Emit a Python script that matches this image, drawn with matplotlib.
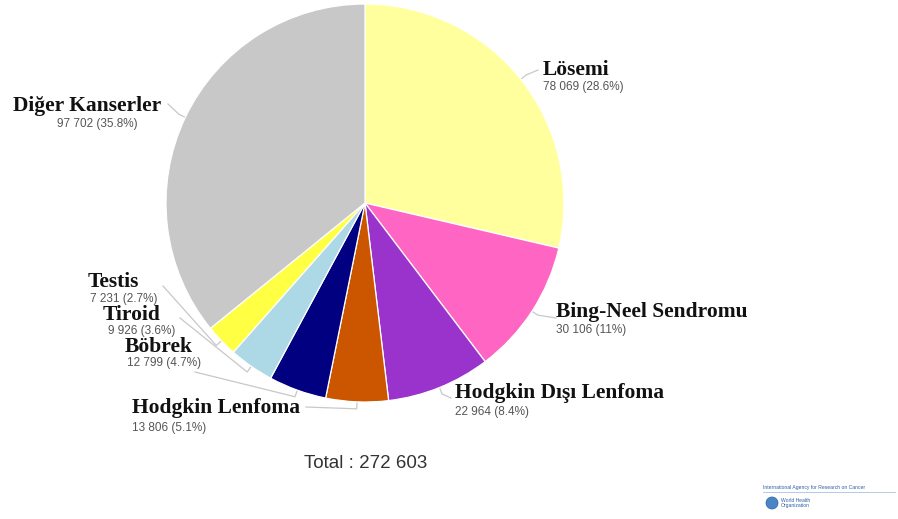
import numpy as np
import matplotlib.pyplot as plt
from matplotlib.patches import Circle

# data
categories = ["Lösemi", "Bing-Neel Sendromu", "Hodgkin Dışı Lenfoma", "Hodgkin Lenfoma",
              "Böbrek", "Tiroid", "Testis", "Diğer Kanserler"]
counts = [78069, 30106, 22964, 13806, 12799, 9926, 7231, 97702]
percents = ["28.6%", "11%", "8.4%", "5.1%", "4.7%", "3.6%", "2.7%", "35.8%"]
colors = ["#ffff9e", "#ff66c4", "#9933cc", "#cc5500", "#000080", "#add8e6", "#ffff44", "#c8c8c8"]

W, H = 898, 519


def py(y):
    # image row -> axes y
    return H - y


def fmt(n):
    return "{:,}".format(n).replace(",", " ")


# label name positions (left x, center y in image pixels) and leader line end points
name_pos = [(543, 70), (556, 312), (455, 393), (132, 408), (125, 347), (103, 315), (88, 282), (13, 106)]
value_pos = [(543, 87), (556, 330), (455, 412), (132, 428), (127, 363), (108, 331), (90, 299), (57, 124)]
line_end = [(538, 70), (556, 318), (451, 398), (306, 407), (195, 372), (180, 318), (163, 286), (168, 104)]

cx, cy, R = 365, 203, 199

fig = plt.figure(figsize=(W / 100, H / 100), dpi=100)
ax = fig.add_axes([0, 0, 1, 1])

wedges, _ = ax.pie(counts, colors=colors, startangle=90, counterclock=False,
                   center=(cx, py(cy)), radius=R,
                   wedgeprops=dict(edgecolor="white", linewidth=0.9))
ax.set_xlim(0, W)
ax.set_ylim(0, H)
ax.set_aspect("equal")
ax.axis("off")

for i, w in enumerate(wedges):
    mid = np.deg2rad((w.theta1 + w.theta2) / 2)
    x0, y0 = cx + R * np.cos(mid), py(cy) + R * np.sin(mid)
    x1, y1 = cx + (R + 7) * np.cos(mid), py(cy) + (R + 7) * np.sin(mid)
    ex, ey = line_end[i]
    ax.plot([x0, x1, ex], [y0, y1, py(ey)], color="#c8c8c8", lw=0.9, zorder=0)

    nx, ny = name_pos[i]
    ax.text(nx, py(ny), categories[i], fontsize=15.5, fontweight="bold",
            family="Liberation Serif", color="#111111", ha="left", va="center")
    vx, vy = value_pos[i]
    ax.text(vx, py(vy), fmt(counts[i]) + " (" + percents[i] + ")", fontsize=8.5,
            family="Liberation Sans", color="#555555", ha="left", va="center")

ax.text(366, py(464), "Total : " + fmt(sum(counts)), fontsize=13.5,
        family="Liberation Sans", color="#333333", ha="center", va="center")

# logo, bottom right
ax.text(763, py(487), "International Agency for Research on Cancer", fontsize=3.6,
        family="Liberation Sans", color="#2a5fa5", ha="left", va="center")
ax.plot([763, 895], [py(492), py(492)], color="#9bb5d6", lw=0.5)
ax.add_patch(Circle((772, py(503)), 6, facecolor="#4a86c5", edgecolor="#2a5fa5", lw=0.5))
ax.text(781, py(500), "World Health", fontsize=3.6, family="Liberation Sans",
        color="#2a5fa5", ha="left", va="center")
ax.text(781, py(506), "Organization", fontsize=3.6, family="Liberation Sans",
        color="#2a5fa5", ha="left", va="center")

fig.savefig("out.png", dpi=100, facecolor="white")
